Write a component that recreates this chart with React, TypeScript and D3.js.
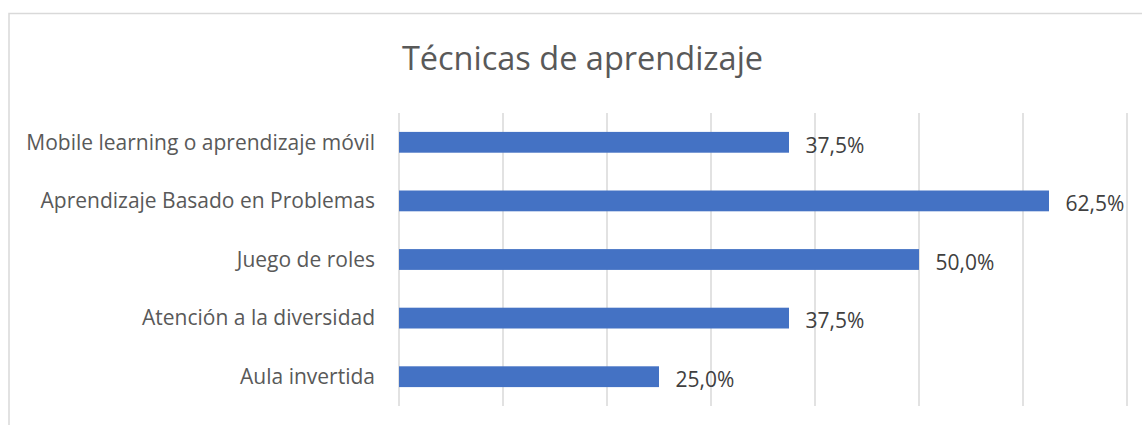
import React from "react";
import * as d3 from "d3";

const categories = [
  "Mobile learning o aprendizaje móvil",
  "Aprendizaje Basado en Problemas",
  "Juego de roles",
  "Atención a la diversidad",
  "Aula invertida",
];
const values = [37.5, 62.5, 50.0, 37.5, 25.0];
const gridTicks = [0, 10, 20, 30, 40, 50, 60, 70];
const title = "Técnicas de aprendizaje";

const W = 1142;
const H = 425;
const FONT = "'Open Sans', Lato, sans-serif";

export default function App() {
  const x = d3.scaleLinear().domain([0, 70]).range([399, 1127]);
  const y = d3
    .scaleBand<string>()
    .domain(categories)
    .range([113, 406])
    .paddingInner(0.645)
    .paddingOuter(0.3225);
  const fmt = (v: number) => d3.format(".1f")(v).replace(".", ",") + "%";

  return (
    <svg
      width={W}
      height={H}
      style={{ position: "absolute", left: 0, top: 0, background: "#fff" }}
    >
      <rect x={9} y={13.5} width={1160} height={440} fill="#fff" stroke="#d9d9d9" strokeWidth={1.5} />
      <text
        x={582.5}
        y={69.5}
        textAnchor="middle"
        fontFamily={FONT}
        fontSize={32.5}
        fill="#595959"
      >
        {title}
      </text>
      {gridTicks.map((t) => (
        <line
          key={t}
          x1={x(t)}
          x2={x(t)}
          y1={113}
          y2={406}
          stroke="#d9d9d9"
          strokeWidth={1.5}
        />
      ))}
      {categories.map((c, i) => {
        const by = y(c)!;
        const bh = y.bandwidth();
        return (
          <g key={c}>
            <rect x={x(0)} y={by} width={x(values[i]) - x(0)} height={bh} fill="#4472c4" />
            <text
              x={375}
              y={by + bh / 2}
              dy="0.35em"
              textAnchor="end"
              fontFamily={FONT}
              fontSize={21}
              fill="#595959"
            >
              {c}
            </text>
            <text
              x={x(values[i]) + 16.5}
              y={by + bh / 2 + 3}
              dy="0.35em"
              textAnchor="start"
              fontFamily={FONT}
              fontSize={21}
              fill="#404040"
            >
              {fmt(values[i])}
            </text>
          </g>
        );
      })}
    </svg>
  );
}
